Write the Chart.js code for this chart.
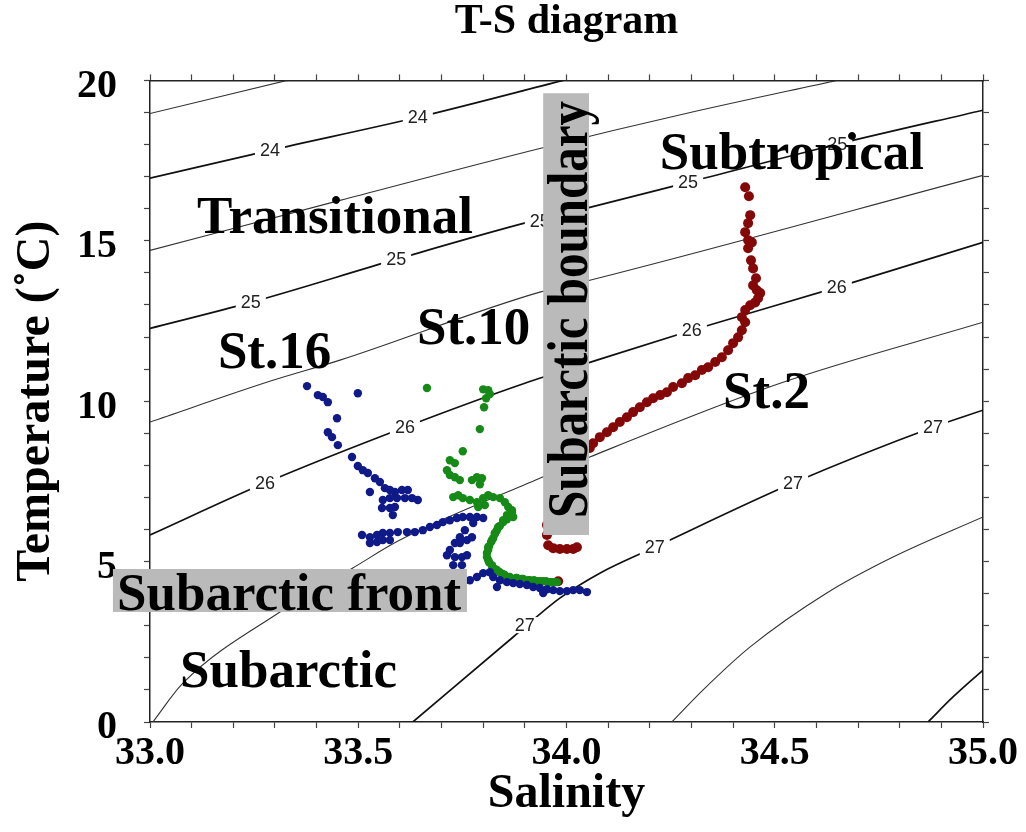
<!DOCTYPE html>
<html>
<head>
<meta charset="utf-8">
<title>T-S diagram</title>
<script src="https://cdn.jsdelivr.net/npm/chart.js@4.4.0/dist/chart.umd.min.js"></script>
<style>
  html, body { margin: 0; padding: 0; background: #fff; }
  #wrap { width: 1026px; height: 832px; }
</style>
</head>
<body>
<div id="wrap"><canvas id="tsChart" width="1026" height="832"></canvas></div>
<script>
// tick labels shown on the axes
const salinityLabels = ['33.0', '33.5', '34.0', '34.5', '35.0'];
const temperatureLabels = ['0', '5', '10', '15', '20'];

// sigma-t isolines, [salinity, temperature]
const sigma235 = [[33.000, 18.97], [33.329, 20.00]];
const sigma240 = [[33.000, 16.95], [33.288, 17.82], [33.643, 18.85], [33.992, 20.00]];
const sigma245 = [[33.000, 14.70], [33.456, 16.26], [33.936, 17.88], [34.297, 19.00], [34.649, 20.00]];
const sigma250 = [[33.000, 12.27], [33.242, 13.08], [33.591, 14.42], [33.908, 15.58], [34.056, 16.04],
                  [34.292, 16.82], [34.650, 18.01], [35.000, 19.07]];
const sigma255 = [[33.000, 9.35], [33.295, 10.65], [33.456, 11.28], [33.936, 13.40], [34.056, 13.77],
                  [35.000, 17.04]];
const sigma260 = [[33.000, 5.83], [33.276, 7.45], [33.612, 9.19], [33.900, 10.56], [34.056, 11.21],
                  [34.301, 12.21], [34.649, 13.55], [35.000, 14.95]];
const sigma265 = [[33.007, 0.00], [33.079, 1.21], [33.312, 3.43], [33.487, 4.80], [33.600, 5.67],
                  [33.936, 7.60], [34.056, 8.26], [34.513, 10.56], [35.000, 12.46]];
const sigma270 = [[33.631, 0.00], [33.872, 2.65], [33.984, 3.86], [34.080, 4.64],
                  [34.212, 5.45], [34.544, 7.45], [34.880, 9.19], [35.000, 9.72]];
const sigma275 = [[34.253, 0.00], [34.328, 1.00], [34.441, 2.34], [34.625, 4.02], [34.784, 5.14],
                  [35.000, 6.39]];
const sigma280 = [[34.868, 0.00], [34.928, 0.78], [35.000, 1.62]];

const sigmaLevels = [23.5, 24, 24.5, 25, 25.5, 26, 26.5, 27, 27.5, 28];
const sigmaLines = [sigma235, sigma240, sigma245, sigma250, sigma255, sigma260, sigma265, sigma270, sigma275, sigma280];

// CTD profiles, [salinity, temperature]
const st16 = [
  [33.377, 10.47], [33.403, 10.19], [33.415, 10.13], [33.427, 9.97], [33.499, 10.25], [33.449, 9.47],
  [33.427, 9.03], [33.437, 8.88], [33.451, 8.63], [33.485, 8.26], [33.499, 7.98], [33.511, 7.85],
  [33.523, 7.76], [33.540, 7.60], [33.552, 7.48], [33.564, 7.29], [33.576, 7.23], [33.588, 7.17],
  [33.605, 7.23], [33.619, 7.23], [33.528, 7.17], [33.559, 6.92], [33.576, 6.98], [33.593, 6.98],
  [33.612, 6.98], [33.629, 6.98], [33.643, 6.92], [33.557, 6.67], [33.576, 6.67], [33.588, 6.70],
  [33.583, 6.45], [33.509, 5.83], [33.528, 5.76], [33.545, 5.83], [33.559, 5.89], [33.576, 5.89],
  [33.595, 5.92], [33.617, 5.92], [33.636, 5.92], [33.655, 5.98], [33.672, 6.08], [33.689, 6.14],
  [33.703, 6.23], [33.720, 6.29], [33.737, 6.36], [33.751, 6.39], [33.768, 6.39], [33.785, 6.39],
  [33.800, 6.36], [33.528, 5.58], [33.545, 5.61], [33.559, 5.67], [33.576, 5.67], [33.776, 6.20],
  [33.756, 5.98], [33.744, 5.76], [33.732, 5.58], [33.720, 5.36], [33.713, 5.20], [33.744, 5.58],
  [33.761, 5.67], [33.773, 5.76], [33.732, 5.14], [33.749, 5.14], [33.761, 5.20], [33.728, 4.89],
  [33.749, 4.89], [33.768, 4.42], [33.785, 4.52], [33.800, 4.64], [33.816, 4.67], [33.824, 4.52],
  [33.840, 4.42], [33.857, 4.36], [33.872, 4.33], [33.888, 4.30], [33.905, 4.27], [33.920, 4.21],
  [33.936, 4.18], [33.953, 4.14], [33.968, 4.11], [33.984, 4.08], [34.001, 4.08], [34.016, 4.11],
  [34.032, 4.11], [34.049, 4.05], [33.833, 4.21], [33.944, 4.02]
];
const st10 = [
  [33.665, 10.41], [33.800, 10.37], [33.812, 10.34], [33.816, 10.22], [33.807, 10.09], [33.802, 9.81],
  [33.792, 9.13], [33.751, 8.44], [33.720, 8.16], [33.732, 8.07], [33.713, 7.85], [33.720, 7.70],
  [33.732, 7.63], [33.744, 7.54], [33.773, 7.54], [33.785, 7.63], [33.797, 7.60], [33.792, 7.41],
  [33.728, 7.01], [33.740, 7.07], [33.751, 6.98], [33.768, 6.92], [33.785, 6.85], [33.800, 6.98],
  [33.812, 7.07], [33.824, 7.01], [33.788, 6.70], [33.804, 6.76], [33.840, 6.98], [33.852, 6.85],
  [33.860, 6.70], [33.869, 6.60], [33.872, 6.39], [33.857, 6.45], [33.848, 6.29], [33.836, 6.08],
  [33.828, 5.89], [33.821, 5.67], [33.812, 5.45], [33.809, 5.27], [33.812, 5.05], [33.821, 4.89],
  [33.833, 4.74], [33.848, 4.61], [33.864, 4.52], [33.881, 4.49], [33.896, 4.46], [33.912, 4.42],
  [33.929, 4.39], [33.944, 4.39], [33.960, 4.36], [33.972, 4.36], [33.869, 6.54], [33.864, 6.42],
  [33.857, 6.32], [33.848, 6.23], [33.840, 6.11], [33.833, 5.98], [33.828, 5.86], [33.824, 5.73],
  [33.819, 5.61], [33.814, 5.48], [33.812, 5.36], [33.809, 5.14], [33.814, 4.98], [33.821, 4.86],
  [33.828, 4.77], [33.840, 4.67], [33.852, 4.58], [33.879, 4.49], [33.893, 4.46], [33.908, 4.42],
  [33.922, 4.42], [33.936, 4.39], [33.951, 4.39], [33.965, 4.36], [33.977, 4.36]
];
const st2 = [
  [34.429, 16.67], [34.438, 16.39], [34.441, 15.80], [34.436, 15.55], [34.429, 15.27], [34.436, 15.02],
  [34.445, 14.95], [34.436, 14.77], [34.443, 14.39], [34.448, 14.14], [34.455, 13.83], [34.448, 13.61],
  [34.457, 13.46], [34.465, 13.37], [34.460, 13.21], [34.453, 13.08], [34.441, 12.99], [34.429, 12.84],
  [34.421, 12.62], [34.429, 12.46], [34.421, 12.21], [34.412, 11.99], [34.400, 11.81], [34.388, 11.59],
  [34.373, 11.37], [34.357, 11.22], [34.340, 11.06], [34.325, 10.97], [34.309, 10.81], [34.292, 10.72],
  [34.277, 10.56], [34.256, 10.44], [34.241, 10.28], [34.225, 10.19], [34.208, 10.09], [34.193, 9.97],
  [34.176, 9.81], [34.160, 9.66], [34.145, 9.50], [34.128, 9.35], [34.112, 9.19], [34.097, 9.03],
  [34.080, 8.88], [34.064, 8.69], [34.056, 8.54], [33.953, 6.14], [33.953, 5.83], [33.956, 5.51],
  [33.968, 5.42], [33.984, 5.39], [34.001, 5.39], [34.016, 5.39], [34.025, 5.45], [33.980, 4.39]
];

const serif = "'Liberation Serif', 'Times New Roman', serif";
const toXY = pts => pts.map(p => ({ x: p[0], y: p[1] }));

// scatter sets first so they are painted on top of the isolines
const datasets = [
  { label: 'St.16', data: toXY(st16), backgroundColor: '#0f1a88', borderWidth: 0, pointRadius: 4.2, pointHoverRadius: 4.2 },
  { label: 'St.10', data: toXY(st10), backgroundColor: '#168a16', borderWidth: 0, pointRadius: 4.2, pointHoverRadius: 4.2 },
  { label: 'St.2', data: toXY(st2), backgroundColor: '#850808', borderWidth: 0, pointRadius: 5, pointHoverRadius: 5 }
];
const firstContour = datasets.length;
sigmaLines.forEach((line, i) => {
  const major = Number.isInteger(sigmaLevels[i]);
  datasets.push({
    label: 'sigma ' + sigmaLevels[i],
    data: toXY(line),
    showLine: true,
    pointRadius: 0,
    borderColor: major ? '#111' : '#333',
    borderWidth: major ? 1.7 : 1.1,
    cubicInterpolationMode: 'monotone',
    fill: false
  });
});

// isoline labels and the region names
const tsLabels = {
  id: 'tsLabels',
  afterDatasetDraw(chart, args, opts) {
    if (args.index !== firstContour) return;
    const { ctx, scales: { x, y } } = chart;
    ctx.save();
    ctx.font = "18px 'Liberation Sans', Arial, sans-serif";
    ctx.textAlign = 'center';
    ctx.textBaseline = 'middle';
    opts.contourLabels.forEach(l => {
      const px = x.getPixelForValue(l[1]);
      const py = y.getPixelForValue(l[2]);
      const w = ctx.measureText(l[0]).width + 10;
      ctx.fillStyle = '#fff';
      ctx.fillRect(px - w / 2, py - 8, w, 16);
      ctx.fillStyle = '#222';
      ctx.fillText(l[0], px, py + 1);
    });
    ctx.restore();
  },
  afterDraw(chart, args, opts) {
    const { ctx, scales: { x, y } } = chart;
    ctx.save();
    ctx.fillStyle = '#bababa';
    opts.boxes.forEach(b => {
      const x1 = x.getPixelForValue(b[0]), x2 = x.getPixelForValue(b[1]);
      const y1 = y.getPixelForValue(b[3]), y2 = y.getPixelForValue(b[2]);
      ctx.fillRect(x1, y1, x2 - x1, y2 - y1);
    });
    ctx.fillStyle = '#000';
    ctx.textAlign = 'left';
    ctx.textBaseline = 'alphabetic';
    ctx.font = `bold 53px ${serif}`;
    opts.regions.forEach(r => {
      ctx.fillText(r[0], x.getPixelForValue(r[1]), y.getPixelForValue(r[2]));
    });
    // vertical label
    const v = opts.vertical;
    ctx.translate(x.getPixelForValue(v[1]), y.getPixelForValue(v[2]));
    ctx.rotate(-Math.PI / 2);
    ctx.scale(1, 1.18);
    ctx.font = `bold 49px ${serif}`;
    ctx.fillText(v[0], 0, 0);
    ctx.restore();
  }
};

new Chart(document.getElementById('tsChart'), {
  type: 'scatter',
  data: { datasets },
  plugins: [tsLabels],
  options: {
    responsive: false,
    animation: false,
    events: [],
    layout: { padding: 0 },
    plugins: {
      legend: { display: false },
      tooltip: { enabled: false },
      title: {
        display: true,
        fullSize: false,
        text: 'T-S diagram',
        color: '#000',
        font: { family: serif, size: 42, weight: 'bold', lineHeight: 0.7 },
        padding: { top: 7, bottom: 0 }
      },
      tsLabels: {
        contourLabels: [
          ['24', 33.288, 17.82], ['24', 33.643, 18.85],
          ['25', 33.242, 13.08], ['25', 33.591, 14.42], ['25', 33.936, 15.61], ['25', 34.292, 16.82], ['25', 34.650, 18.01],
          ['26', 33.276, 7.45], ['26', 33.612, 9.19], ['26', 34.301, 12.21], ['26', 34.649, 13.55],
          ['27', 33.900, 3.02], ['27', 34.212, 5.45], ['27', 34.544, 7.45], ['27', 34.880, 9.19]
        ],
        boxes: [
          [32.911, 33.761, 3.43, 4.77],
          [33.944, 34.054, 5.83, 19.60]
        ],
        regions: [
          ['Transitional', 33.113, 15.23],
          ['Subtropical', 34.224, 17.23],
          ['St.16', 33.163, 11.03],
          ['St.10', 33.641, 11.78],
          ['St.2', 34.376, 9.78],
          ['Subarctic', 33.072, 1.09],
          ['Subarctic front', 32.921, 3.49]
        ],
        vertical: ['Subarctic boundary', 34.049, 6.36]
      }
    },
    scales: {
      x: {
        type: 'linear', position: 'bottom', min: 33, max: 35,
        ticks: {
          stepSize: 0.1, autoSkip: false, maxRotation: 0, padding: 2, color: '#000',
          font: { family: serif, size: 40, weight: 'bold' },
          callback: v => salinityLabels.includes(v.toFixed(1)) ? v.toFixed(1) : ''
        },
        grid: { drawOnChartArea: false, tickLength: 6, color: '#444', tickWidth: 1.2 },
        border: { color: '#222', width: 1.5 },
        title: {
          display: true, text: 'Salinity', color: '#000',
          font: { family: serif, size: 48, weight: 'bold' },
          padding: { top: 0, bottom: 9 }
        },
        afterFit: s => { s.height = 110; }
      },
      x2: {
        type: 'linear', position: 'top', min: 33, max: 35,
        ticks: { stepSize: 0.1, display: false },
        grid: { drawOnChartArea: false, tickLength: 6, color: '#444', tickWidth: 1.2 },
        border: { color: '#222', width: 1.5 },
        afterFit: s => { s.height = 44; }
      },
      y: {
        type: 'linear', position: 'left', min: 0, max: 20,
        ticks: {
          stepSize: 1, autoSkip: false, padding: 27, labelOffset: 6, color: '#000',
          font: { family: serif, size: 40, weight: 'bold' },
          callback: v => temperatureLabels.includes(String(v)) ? String(v) : ''
        },
        grid: { drawOnChartArea: false, tickLength: 6, color: '#444', tickWidth: 1.2 },
        border: { color: '#222', width: 1.5 },
        title: {
          display: true, text: 'Temperature (\u02DAC)', color: '#000',
          font: { family: serif, size: 48, weight: 'bold' },
          padding: { top: 8, bottom: 0 }
        },
        afterFit: s => { s.width = 150; }
      },
      y2: {
        type: 'linear', position: 'right', min: 0, max: 20,
        ticks: { stepSize: 1, display: false },
        grid: { drawOnChartArea: false, tickLength: 6, color: '#444', tickWidth: 1.2 },
        border: { color: '#222', width: 1.5 },
        afterFit: s => { s.width = 43; }
      }
    }
  }
});
</script>
</body>
</html>
